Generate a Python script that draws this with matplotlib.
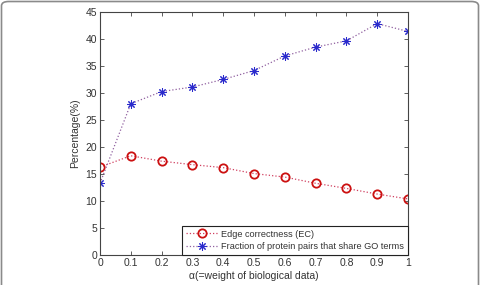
import matplotlib
matplotlib.use("Agg")
import matplotlib.pyplot as plt
from matplotlib.patches import FancyBboxPatch

alpha = [0, 0.1, 0.2, 0.3, 0.4, 0.5, 0.6, 0.7, 0.8, 0.9, 1.0]
ec = [16.3, 18.4, 17.4, 16.75, 16.2, 15.1, 14.45, 13.3, 12.35, 11.3, 10.4]
go = [13.3, 28.05, 30.3, 31.15, 32.55, 34.2, 36.9, 38.55, 39.7, 42.9, 41.45]
xticks = [0, 0.1, 0.2, 0.3, 0.4, 0.5, 0.6, 0.7, 0.8, 0.9, 1]
xticklabels = ["0", "0.1", "0.2", "0.3", "0.4", "0.5", "0.6", "0.7", "0.8", "0.9", "1"]
yticks = [0, 5, 10, 15, 20, 25, 30, 35, 40, 45]
labels = ["Edge correctness (EC)", "Fraction of protein pairs that share GO terms"]

plt.rcParams['font.family'] = ['Liberation Sans', 'DejaVu Sans']

fig = plt.figure(figsize=(4.81, 2.85), dpi=100)
fig.patch.set_facecolor('white')

# outer rounded frame
frame = FancyBboxPatch((1.5 / 481, -0.2), (477 / 481), 1.2 - 1.5 / 285,
                       boxstyle="round,pad=0,rounding_size=0.015",
                       transform=fig.transFigure, fill=False,
                       edgecolor='#8a8a8a', linewidth=1.2, clip_on=False)
fig.patches.append(frame)

ax = fig.add_axes([100 / 481, 30 / 285, 308 / 481, 242.7 / 285])

ax.plot(alpha, ec, linestyle=':', color='#d04060', linewidth=0.9,
        marker='o', markersize=6, markerfacecolor='none',
        markeredgecolor='#cc1111', markeredgewidth=1.3, label=labels[0])
ax.plot(alpha, go, linestyle=':', color='#9060a0', linewidth=0.9,
        marker=(8, 2, 0), markersize=6,
        markeredgecolor='#2a2acc', markerfacecolor='#2a2acc',
        markeredgewidth=0.75, label=labels[1])

ax.set_xlim(0, 1)
ax.set_ylim(0, 45)
ax.set_xticks(xticks)
ax.set_xticklabels(xticklabels)
ax.set_yticks(yticks)

for s in ax.spines.values():
    s.set_color('#444444')
    s.set_linewidth(0.8)
ax.tick_params(direction='in', length=3, width=0.6, colors='#444444',
               labelsize=7.5, top=True, right=True, pad=2)
for t in ax.get_xticklabels() + ax.get_yticklabels():
    t.set_color('#333333')

ax.set_xlabel("α(=weight of biological data)", fontsize=7.5, color='#333333', labelpad=2)
ax.set_ylabel("Percentage(%)", fontsize=7.5, color='#333333', labelpad=4)

leg = ax.legend(loc='lower right', bbox_to_anchor=(1, 0), borderaxespad=0,
                fontsize=6.6, handlelength=3.6, handletextpad=0.3,
                labelspacing=0.4, borderpad=0.4, fancybox=False,
                framealpha=1, edgecolor='#222222')
leg.get_frame().set_linewidth(0.8)
for t in leg.get_texts():
    t.set_color('#333333')

fig.savefig("out.png", dpi=100)
